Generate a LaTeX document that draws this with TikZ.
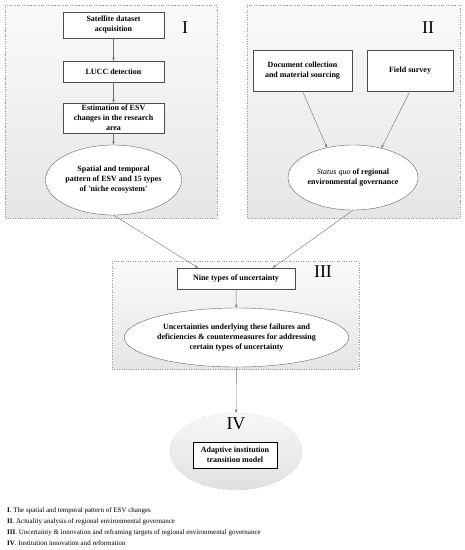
\documentclass[tikz,border=0pt]{standalone}
\usepackage{fontspec}
\setmainfont{Liberation Serif}
\usetikzlibrary{shapes,calc,arrows.meta}
\tikzstyle{panel}=[draw=black!40,dotted,top color=black!2,bottom color=black!10]
\tikzstyle{stepbox}=[rectangle,draw=black!70,fill=white,align=center,inner sep=1pt,font=\fontsize{8}{10}\selectfont\bfseries]
\tikzstyle{oval}=[ellipse,draw=black!60,fill=white,align=center,inner sep=0pt,font=\fontsize{8}{10}\selectfont\bfseries]
\tikzstyle{edge}=[draw,black!55,-{Stealth[length=3.5pt,width=2.5pt]}]
\tikzstyle{numeral}=[font=\fontsize{18}{18}\selectfont]
\tikzstyle{legend}=[anchor=west,inner sep=0pt,font=\fontsize{7}{8}\selectfont]

\begin{document}
\begin{tikzpicture}[x=1pt,y=-1pt]
    \useasboundingbox (0,0) rectangle (465,550);

    % background panels
    \path[panel] (5,5) rectangle (217,218);
    \path[panel] (247,5) rectangle (460,218);
    \path[panel] (112,261) rectangle (359,369);

    \node[numeral] (numI) at (185,28) {I};
    \node[numeral] (numII) at (428,28) {II};
    \node[numeral] (numIII) at (323,272) {III};

    % panel I
    \foreach \pos/\name/\h/\txt in {{(113.5,25)/sat/26/{Satellite dataset\\acquisition}},
        {(113.5,71.5)/lucc/21/{LUCC detection}},
        {(113.5,118)/est/30/{Estimation of ESV\\changes in the research\\area}}}
        \node[stepbox,minimum width=101pt,minimum height=\h pt] (\name) at \pos {\txt};
    \node[oval,minimum width=115pt,minimum height=70pt] (spatial) at (113.5,180)
        {Spatial and temporal\\pattern of ESV and 15 types\\of \textquotesingle niche ecosystem\textquotesingle};

    \foreach \source/ \dest in {sat/lucc, lucc/est, est/spatial}
        \path[edge] (\source) -- (\dest);

    % panel II
    \node[stepbox,minimum width=99pt,minimum height=41pt] (doc) at (302.5,70.5) {Document collection\\and material sourcing};
    \node[stepbox,minimum width=86pt,minimum height=41pt] (field) at (410,70.5) {Field survey};
    \node[oval,minimum width=130pt,minimum height=65pt] (status) at (353,177.5)
        {{\mdseries\itshape Status quo} of regional\\environmental governance};

    \path[edge] (doc.south) -- (status.131);
    \path[edge] (field.south) -- (status.46);

    % panel III
    \node[stepbox,minimum width=118pt,minimum height=21pt] (nine) at (236,278.5) {Nine types of uncertainty};
    \node[oval,minimum width=217pt,minimum height=59pt] (uncert) at (236.5,337.5)
        {Uncertainties underlying these failures and\\deficiencies \& countermeasures for addressing\\certain types of uncertainty};

    \path[edge] (spatial.south) -- ($(nine.north west)!0.18!(nine.north east)$);
    \path[edge] (status.south) -- ($(nine.north west)!0.81!(nine.north east)$);
    \path[edge] (nine) -- (uncert);

    % panel IV
    \node[ellipse,draw=black!40,dotted,top color=black!3,bottom color=black!12,minimum width=132pt,minimum height=77pt] (iv) at (236,451.5) {};
    \node[numeral] (numIV) at (236,424) {IV};
    \node[stepbox,draw=black,semithick,minimum width=84pt,minimum height=26pt] (model) at (235,455) {Adaptive institution\\transition model};

    \path[edge] (uncert) -- (iv);

    % legend
    \foreach \y/\num/\txt in {511/I/{The spatial and temporal pattern of ESV changes},
        522/II/{Actuality analysis of regional environmental governance},
        532.5/III/{Uncertainty \& innovation and reframing targets of regional environmental governance},
        543/IV/{Institution innovation and reformation}}
        \node[legend] (leg\num) at (7,\y) {\textbf{\num}. \txt};
\end{tikzpicture}
\end{document}
